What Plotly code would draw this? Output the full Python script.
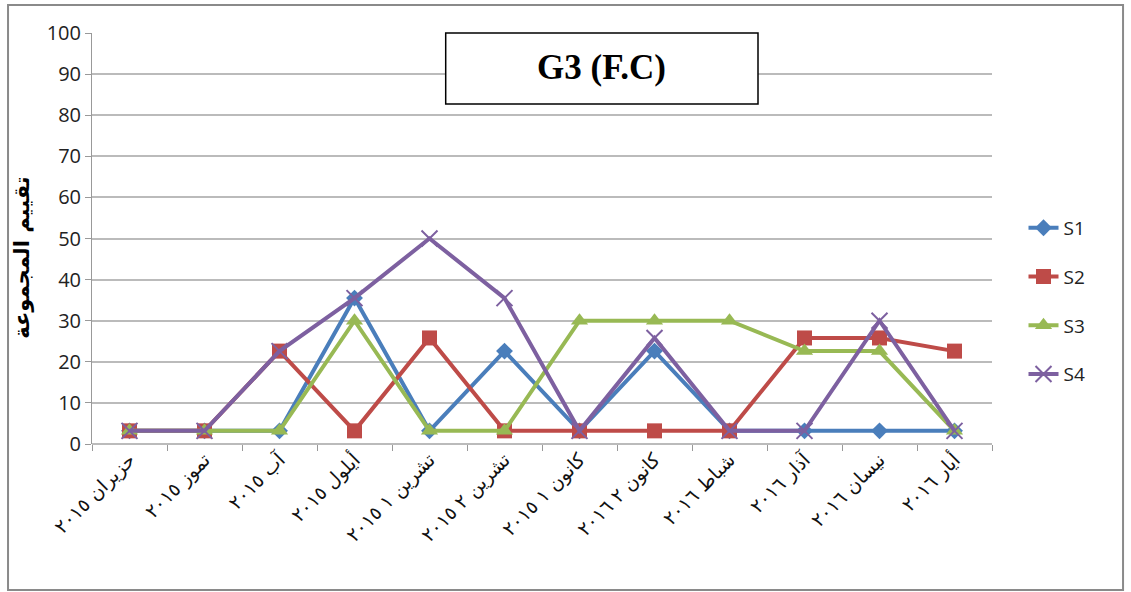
import plotly.graph_objects as go

# Monthly group ratings, June 2015 – May 2016
months = ["حزيران ٢٠١٥", "تموز ٢٠١٥", "آب ٢٠١٥", "أيلول ٢٠١٥", "تشرين ١ ٢٠١٥",
          "تشرين ٢ ٢٠١٥", "كانون ١ ٢٠١٥", "كانون ٢ ٢٠١٦", "شباط ٢٠١٦",
          "آذار ٢٠١٦", "نيسان ٢٠١٦", "أيار ٢٠١٦"]

s1 = [3.2, 3.2, 3.2, 35.5, 3.2, 22.6, 3.2, 22.6, 3.2, 3.2, 3.2, 3.2]
s2 = [3.2, 3.2, 22.6, 3.2, 25.8, 3.2, 3.2, 3.2, 3.2, 25.8, 25.8, 22.6]
s3 = [3.2, 3.2, 3.2, 30.0, 3.2, 3.2, 30.0, 30.0, 30.0, 22.6, 22.6, 3.2]
s4 = [3.2, 3.2, 22.6, 35.5, 50.0, 35.5, 3.2, 25.8, 3.2, 3.2, 30.0, 3.2]

series = [
    ("S1", s1, "#4A7EBB", "diamond", 13),
    ("S2", s2, "#BE4B48", "square", 15),
    ("S3", s3, "#98B954", "triangle-up", 15),
    ("S4", s4, "#7D60A0", "x-thin", 16),
]

fig = go.Figure()
for name, vals, color, symbol, size in series:
    marker = dict(symbol=symbol, size=size, color=color)
    if symbol == "x-thin":
        marker["line"] = dict(color=color, width=2)
    fig.add_trace(go.Scatter(
        x=months, y=vals, name=name, mode="lines+markers",
        line=dict(color=color, width=4), marker=marker,
        legendgroup=name,
    ))

fig.update_layout(
    width=1131, height=592,
    margin=dict(l=92, r=139, t=33, b=148),
    paper_bgcolor="white", plot_bgcolor="white",
    showlegend=True,
    legend=dict(x=1.035, y=0.348, xanchor="left", yanchor="middle",
                font=dict(family="Open Sans", size=19, color="#222"),
                tracegroupgap=21, itemwidth=30),
    xaxis=dict(type="category", showgrid=False, showline=False,
               ticks="outside", tickson="boundaries", ticklen=6,
               tickcolor="#999", tickangle=-45,
               tickfont=dict(family="DejaVu Sans", size=19, color="#111"),
               range=[-0.5, 11.5]),
    yaxis=dict(range=[0, 100], dtick=10, showgrid=True, gridcolor="#BBBBBB",
               gridwidth=1.5, zeroline=True, zerolinecolor="#BBBBBB",
               zerolinewidth=2, showline=True, linecolor="#999", linewidth=1,
               ticks="outside", ticklen=6, tickcolor="#999",
               tickfont=dict(family="Open Sans", size=20, color="#222")),
)

# Y-axis title
fig.add_annotation(text="<b>تقييم المجموعة</b>", textangle=-90,
                   xref="paper", yref="paper", x=-0.078, y=0.455,
                   xanchor="center", yanchor="middle", showarrow=False,
                   font=dict(family="DejaVu Sans", size=21, color="black"))

# Title box
fig.add_shape(type="rect", xref="paper", yref="paper",
              x0=0.393, x1=0.74, y0=0.827, y1=1.0,
              line=dict(color="black", width=1.5), fillcolor="white",
              layer="above")
fig.add_annotation(text="<b>G3 (F.C)</b>", xref="paper", yref="paper",
                   x=0.5665, y=0.917, xanchor="center", yanchor="middle",
                   showarrow=False,
                   font=dict(family="Liberation Serif", size=35, color="black"))

# Chart frame
fig.add_shape(type="rect", xref="paper", yref="paper",
              x0=-0.0933, x1=1.1456, y0=-0.355, y1=1.068,
              line=dict(color="#8A8A8A", width=2))

fig.write_html("out.html")
